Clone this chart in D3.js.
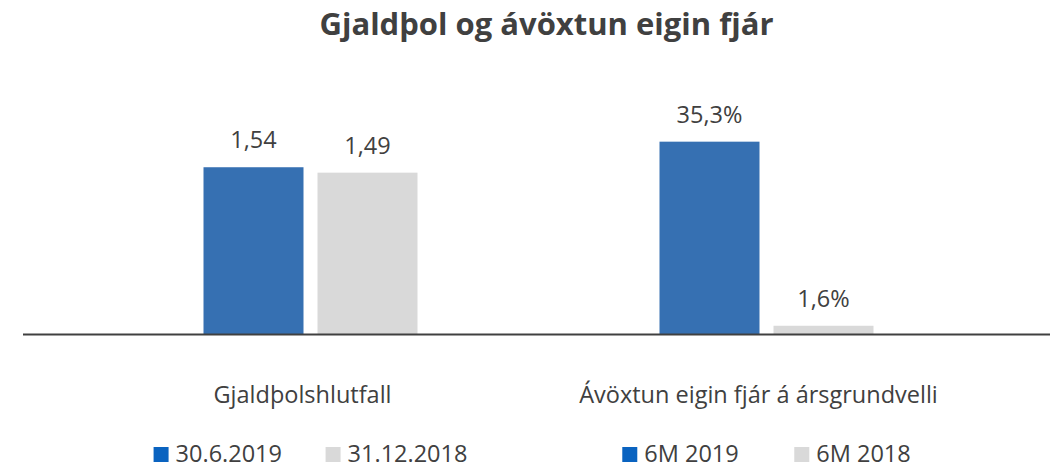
<!DOCTYPE html>
<html>
<head>
<meta charset="utf-8">
<script src="https://cdn.jsdelivr.net/npm/d3@7"></script>
<style>
  html, body { margin: 0; padding: 0; background: #fff; }
  svg { display: block; font-family: "Open Sans", Lato, sans-serif; }
</style>
</head>
<body>
<svg id="chart" width="1051" height="466"></svg>
<script>
const title = 'Gjaldþol og ávöxtun eigin fjár';
const categories = ['Gjaldþolshlutfall', 'Ávöxtun eigin fjár á ársgrundvelli'];
const ratioSeries = ['30.6.2019', '31.12.2018'];
const ratioValues = [1.54, 1.49];
const returnSeries = ['6M 2019', '6M 2018'];
const returnValues = [35.3, 1.6];
const yMaxRatio = 1.8;
const yMaxReturn = 40;

const COLORS = { bar: ['#3670b2', '#d9d9d9'], legend: ['#0a63c0', '#d9d9d9'], text: '#404040' };
const MARGINS = { left: 23, right: 1, baseline: 334.5 };
const FONT = 23.5;

const svg = d3.select('#chart');
const width = +svg.attr('width');

const decimal = d3.formatLocale({ decimal: ',', thousands: '.', grouping: [3], currency: ['', ''] });
const fmtRatio = decimal.format('.2f');
const fmtPct = v => decimal.format('.1f')(v) + '%';

// one group per category, each with its own value scale (like a secondary axis)
const groups = [
  { cat: categories[0], series: ratioSeries, values: ratioValues, fmt: fmtRatio,
    y: d3.scaleLinear().domain([0, yMaxRatio]).range([MARGINS.baseline, 139]) },
  { cat: categories[1], series: returnSeries, values: returnValues, fmt: fmtPct,
    y: d3.scaleLinear().domain([0, yMaxReturn]).range([MARGINS.baseline, 116]) }
];

const x0 = d3.scaleBand().domain(categories).range([82.5, 994.5]);
const x1 = d3.scaleBand().domain([0, 1])
  .range([(x0.bandwidth() - 214) / 2, (x0.bandwidth() + 214) / 2])
  .paddingInner(0.1228);

svg.append('text')
  .attr('x', width / 2 + 21).attr('y', 35)
  .attr('text-anchor', 'middle')
  .attr('font-size', 31).attr('font-weight', 'bold')
  .attr('fill', COLORS.text)
  .text(title);

const g = svg.selectAll('g.group')
  .data(groups)
  .join('g')
  .attr('class', 'group')
  .attr('transform', d => `translate(${x0(d.cat)}, 0)`);

g.each(function (grp) {
  const sel = d3.select(this);
  const items = grp.values.map((v, i) => ({ v, i }));

  sel.selectAll('rect.bar')
    .data(items)
    .join('rect')
    .attr('class', 'bar')
    .attr('x', d => x1(d.i))
    .attr('y', d => grp.y(d.v))
    .attr('width', x1.bandwidth())
    .attr('height', d => grp.y(0) - grp.y(d.v))
    .attr('fill', d => COLORS.bar[d.i]);

  sel.selectAll('text.value')
    .data(items)
    .join('text')
    .attr('class', 'value')
    .attr('x', d => x1(d.i) + x1.bandwidth() / 2)
    .attr('y', d => grp.y(d.v) - 19)
    .attr('text-anchor', 'middle')
    .attr('font-size', FONT)
    .attr('fill', COLORS.text)
    .text(d => grp.fmt(d.v));

  sel.append('text')
    .attr('x', x0.bandwidth() / 2 - 8)
    .attr('y', 403)
    .attr('text-anchor', 'middle')
    .attr('font-size', FONT)
    .attr('fill', COLORS.text)
    .text(grp.cat);

  // legend, centred under the group
  const legend = sel.append('g');
  const li = legend.selectAll('g')
    .data(grp.series)
    .join('g')
    .attr('transform', (d, i) => `translate(${i * 172}, 0)`);
  li.append('rect')
    .attr('y', 447).attr('width', 15).attr('height', 15)
    .attr('fill', (d, i) => COLORS.legend[i]);
  li.append('text')
    .attr('x', 22).attr('y', 462)
    .attr('font-size', FONT)
    .attr('fill', COLORS.text)
    .text(d => d);
  const bb = legend.node().getBBox();
  legend.attr('transform', `translate(${x0.bandwidth() / 2 - bb.width / 2}, 0)`);
});

svg.append('line')
  .attr('x1', MARGINS.left).attr('x2', width - MARGINS.right)
  .attr('y1', MARGINS.baseline).attr('y2', MARGINS.baseline)
  .attr('stroke', COLORS.text).attr('stroke-width', 2);
</script>
</body>
</html>
